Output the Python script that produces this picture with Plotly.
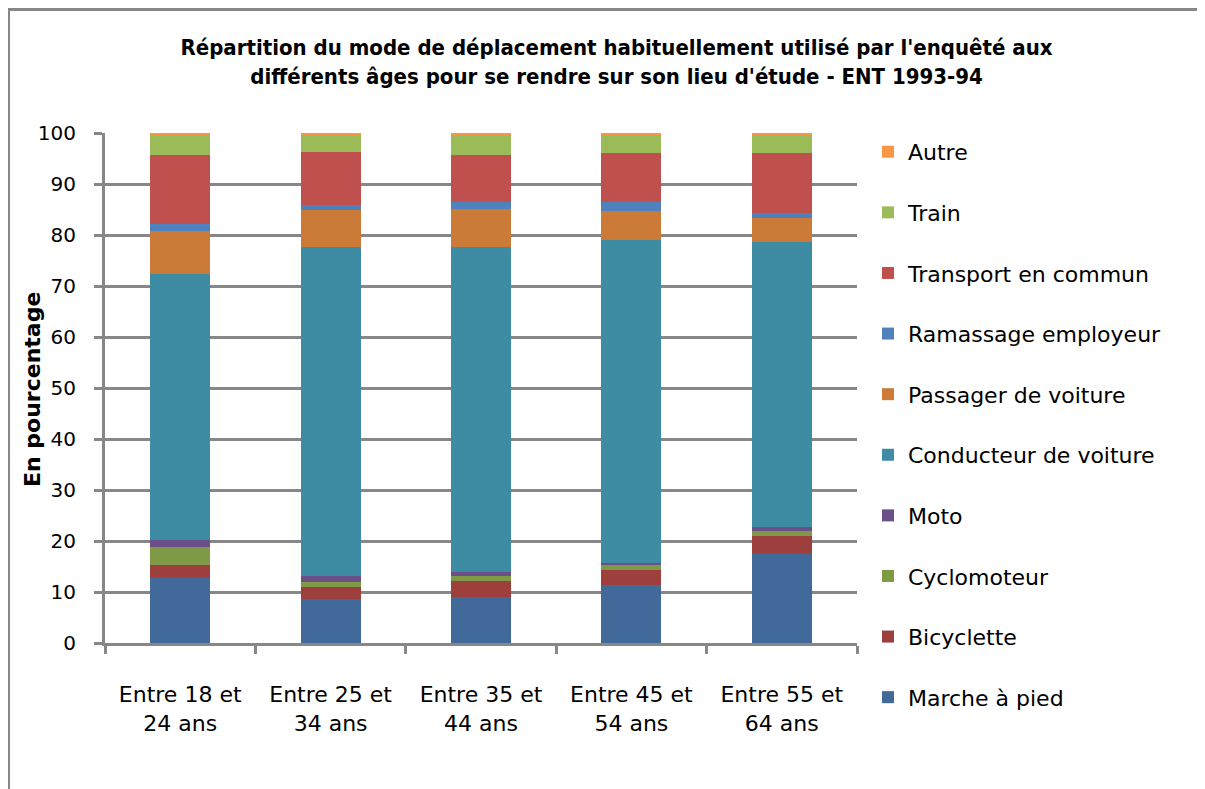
import plotly.graph_objects as go

categories = ["Entre 18 et<br>24 ans", "Entre 25 et<br>34 ans", "Entre 35 et<br>44 ans",
              "Entre 45 et<br>54 ans", "Entre 55 et<br>64 ans"]

marche = [12.7, 8.7, 9.1, 11.4, 17.5]
bicyclette = [2.6, 2.3, 3.0, 3.0, 3.5]
cyclomoteur = [3.5, 0.9, 0.95, 0.95, 0.9]
moto = [1.4, 1.3, 0.95, 0.4, 0.9]
conducteur = [52.2, 64.5, 63.6, 63.3, 55.9]
passager = [8.4, 7.2, 7.5, 5.7, 4.7]
ramassage = [1.4, 0.9, 1.35, 1.8, 1.0]
transport = [13.5, 10.4, 9.2, 9.5, 11.7]
train = [4.0, 3.6, 4.0, 3.6, 3.6]
autre = [0.3, 0.3, 0.3, 0.3, 0.3]

series_names = ["Marche à pied", "Bicyclette", "Cyclomoteur", "Moto", "Conducteur de voiture",
                "Passager de voiture", "Ramassage employeur", "Transport en commun", "Train", "Autre"]
series_values = [marche, bicyclette, cyclomoteur, moto, conducteur,
                 passager, ramassage, transport, train, autre]
series_colors = ["#416A9B", "#9C3F3D", "#7E9A47", "#6A4F88", "#3D8CA4",
                 "#CB7A37", "#4F81BD", "#C0504D", "#9BBB59", "#F79646"]

fig = go.Figure()
for i, (name, vals, col) in enumerate(zip(series_names, series_values, series_colors)):
    fig.add_trace(go.Bar(x=categories, y=vals, name=name, legendgroup=name,
                         legendrank=1000 - i,
                         marker=dict(color=col, line=dict(width=0))))

GRID = "#878787"
W, H = 1205, 789
ML, MT = 97, 125
PW, PH = 752, 510
fig.update_layout(
    width=W, height=H,
    barmode="stack", bargap=0.6,
    paper_bgcolor="white", plot_bgcolor="white",
    margin=dict(l=ML, r=W - ML - PW, t=MT, b=H - MT - PH, autoexpand=False),
    font=dict(family="DejaVu Sans", size=20, color="black"),
    title=dict(text="Répartition du mode de déplacement habituellement utilisé par l'enquêté aux<br>"
                    "différents âges pour se rendre sur son lieu d'étude - ENT 1993-94",
               x=0.505, xanchor="center", xref="container",
               y=1 - 47 / H, yanchor="middle",
               font=dict(family="DejaVu Sans Condensed, DejaVu Sans", size=22, color="black",
                         weight="bold")),
    legend=dict(x=1.0146, xanchor="left", y=1.004, yanchor="top",
                traceorder="grouped", tracegroupgap=29, maxheight=780,
                font=dict(family="DejaVu Sans", size=22), bgcolor="rgba(0,0,0,0)"),
    showlegend=True,
)
fig.update_xaxes(showline=True, linecolor=GRID, linewidth=3, ticks="outside", tickson="boundaries",
                 ticklen=8, tickwidth=3, tickcolor=GRID, showgrid=False,
                 tickfont=dict(family="DejaVu Sans", size=22), ticklabelstandoff=30)
fig.update_yaxes(range=[0, 100], dtick=10, showline=True, linecolor=GRID, linewidth=3,
                 ticks="outside", ticklen=8, tickwidth=3, tickcolor=GRID,
                 showgrid=True, gridcolor=GRID, gridwidth=3, zeroline=False,
                 tickfont=dict(family="DejaVu Sans", size=20), ticklabelstandoff=14)

# y-axis title
fig.add_annotation(text="<b>En pourcentage</b>", textangle=-90, showarrow=False,
                   xref="paper", yref="paper", x=(24 - ML) / PW, y=0.496,
                   xanchor="center", yanchor="middle",
                   font=dict(family="DejaVu Sans", size=22, color="black"))

# outer chart border
fig.add_shape(type="rect", xref="paper", yref="paper",
              x0=(0.5 - ML) / PW, x1=(1220 - ML) / PW,
              y0=(MT + PH - 820) / PH, y1=(MT + PH - 1.5) / PH,
              line=dict(color=GRID, width=3), fillcolor="rgba(0,0,0,0)", layer="below")

fig.write_html("out.html")
